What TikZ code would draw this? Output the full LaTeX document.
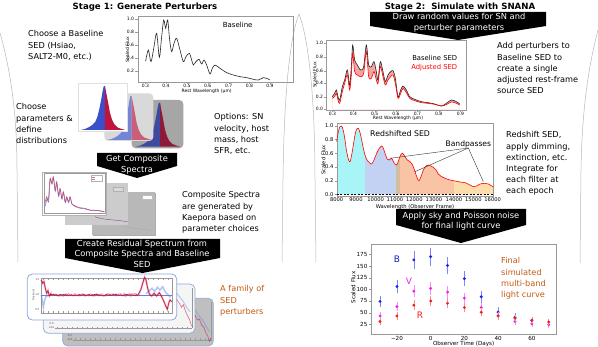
\documentclass[tikz,border=0pt]{standalone}
\usepackage{fontspec}
\setmainfont{DejaVu Sans}
\definecolor{orangeC}{HTML}{C55A11}
\definecolor{cyanB}{HTML}{A8F4F6}
\definecolor{blueB}{HTML}{C3D2F2}
\definecolor{tanB}{HTML}{D5BE9E}
\definecolor{salmonB}{HTML}{F9C3A6}
\definecolor{yelB}{HTML}{FDDDAA}
\definecolor{pinkF}{HTML}{F5A3A3}
\definecolor{cardblue}{HTML}{8EA9DB}
\definecolor{hB1}{HTML}{3A4FC8}
\definecolor{hR1}{HTML}{C0143C}
\definecolor{hB2}{HTML}{7386D6}
\definecolor{hR2}{HTML}{C8607A}
\definecolor{hB3}{HTML}{3D4A9E}
\definecolor{hR3}{HTML}{8E1A3A}
\definecolor{lcB}{HTML}{2020F0}
\definecolor{lcV}{HTML}{F020F0}
\definecolor{lcR}{HTML}{F02020}
\definecolor{resB}{HTML}{6080E0}
\definecolor{resR}{HTML}{C8143C}
\newcommand{\histo}[4]{%
\begin{scope}[shift={(#1,#2)},scale=1/3]
\fill[#3] (62,165) -- (75,162) -- (88,156) -- (98,149) -- (106,140) -- (112,126) -- (118,102) -- (124,72) -- (128,48) -- (131,34) -- (135,33) -- (135,165) -- cycle;
\fill[#4] (135,33) -- (137,44) -- (140,60) -- (145,86) -- (150,114) -- (156,134) -- (163,148) -- (172,157) -- (185,162) -- (196,165) -- (135,165) -- cycle;
\end{scope}}
\newcommand{\blkarrow}[5]{\fill[black] (#1,#3) -- (#2,#3) -- (#2,#4) -- ({(#1+#2)/2},#5) -- (#1,#4) -- cycle;}
\begin{document}
\begin{tikzpicture}[x=1pt,y=-1pt,
  txt/.style={font=\fontsize{8.2}{11.2}\selectfont,align=left,anchor=north west,inner sep=0pt},
  otxt/.style={txt,text=orangeC},
  atxt/.style={font=\fontsize{8.3}{10.5}\selectfont,text=white,align=center,inner sep=0pt},
  ttl/.style={font=\bfseries\fontsize{8.6}{11}\selectfont,inner sep=0pt},
  tk/.style={font=\fontsize{4.5}{5}\selectfont,inner sep=0.4pt},
  tkb/.style={font=\fontsize{5.2}{6}\selectfont,inner sep=0.4pt},
  tkc/.style={font=\fontsize{5.6}{7}\selectfont,inner sep=0.4pt},
  tkd/.style={font=\fontsize{2.6}{3}\selectfont,inner sep=0.2pt,text=black!70},
  frm/.style={draw=black!40,line width=0.3pt},
  brk/.style={draw=black!28,line width=0.5pt}]
\useasboundingbox (0,0) rectangle (598,347);
\fill[white] (0,0) rectangle (598,347);

% ---------- panel brackets
\draw[brk] (0,33) .. controls (12,75) and (17,120) .. (17,170) -- (18,262);
\draw[brk] (282,262) -- (283,180) .. controls (284,100) and (289,40) .. (299,14) .. controls (309,40) and (315,100) .. (315,180) -- (316,262);
\draw[brk] (598,30) .. controls (587,72) and (582,115) .. (581,170) -- (580,263);

% ---------- titles
\node[ttl] (t1) at (145,7) {Stage 1: Generate Perturbers};
\node[ttl] (t2) at (460,7) {Stage 2:\ \ Simulate with SNANA};

% ---------- Stage 1 baseline plot
\begin{scope}[scale=1/3]
\draw[frm] (413,47) rectangle (880,245);
\foreach \lab/\pos [count=\k] in {1.0/58,0.8/97,0.6/135,0.4/175,0.2/212}{\draw[frm] (413,\pos) -- (406,\pos); \node[tk,anchor=east] (bly\k) at (404,\pos) {\lab};}
\foreach \lab/\pos [count=\k] in {0.3/436,0.4/498,0.5/561,0.6/623,0.7/686,0.8/748,0.9/810}{\draw[frm] (\pos,245) -- (\pos,251); \node[tk,anchor=north] (blx\k) at (\pos,251) {\lab};}
\node[tk] (blxt) at (620,274) {Rest Wavelength (μm)};
\node[tk,rotate=90] (blyt) at (382,150) {Scaled Flux};
\node[font=\fontsize{7}{8}\selectfont,inner sep=0pt] (bllab) at (713,75) {Baseline};
\draw[line width=0.6pt,black!85] plot[smooth,tension=0.5] coordinates {(437,183) (445,150) (453,185) (462,140) (470,100) (478,172) (484,120) (491,60) (497,85) (503,60) (509,120) (515,155) (522,130) (530,115) (540,150) (550,185) (558,170) (568,160) (575,180) (580,195) (588,185) (597,178) (605,192) (612,180) (620,195) (630,222) (637,205) (645,195) (660,205) (680,218) (700,225) (720,230) (740,233) (760,238) (775,240) (790,233) (800,235) (810,240)};
\end{scope}

% ---------- histogram cards
\fill[black!35,rounded corners=4pt] (131.7,100) rectangle (183.3,148.3);
\histo{115}{91.67}{hB3}{hR3}
\fill[black!15,rounded corners=4pt] (104.3,93.3) rectangle (153.3,141);
\histo{86.67}{85}{hB2}{hR2}
\filldraw[fill=white,draw=black!12,line width=0.3pt] (78.3,83.3) rectangle (126.7,131);
\histo{60}{75}{hB1}{hR1}

% ---------- arrow 1
\blkarrow{97}{177}{153}{166}{178}
\node[atxt] (a1) at (137,164.5) {Get Composite\\Spectra};

% ---------- composite spectra cards
\begin{scope}[shift={(0,170)},scale=1/3]
\fill[black!32] (279,69) rectangle (469,199);
\fill[black!28] (275,65) rectangle (465,195);
\filldraw[fill=white,draw=black!25,line width=0.2pt] (425,75) rectangle (455,88);
\draw[hB2!60!black!50,line width=0.4pt] plot[smooth] coordinates {(370,170) (390,172) (410,176) (430,178) (460,182)};
\fill[black!20] (195,40) rectangle (385,165);
\filldraw[fill=white!85!black,draw=black!30,line width=0.2pt] (340,50) rectangle (370,63);
\draw[hR2!70!blue,line width=0.4pt] plot[smooth] coordinates {(285,140) (300,145) (320,148) (340,150) (360,152) (383,155)};
\filldraw[fill=white,draw=black!30,line width=0.3pt] (125,5) rectangle (318,135);
\draw[frm] (132,10) rectangle (314,130);
\filldraw[fill=white,draw=black!30,line width=0.2pt] (272,15) rectangle (305,32);
\draw[hR1!60,line width=0.3pt] (276,21) -- (284,21);
\draw[hB1!60,line width=0.3pt] (276,27) -- (284,27);
\draw[hB1!80,line width=0.5pt] plot[smooth] coordinates {(136,108) (141,86) (146,95) (151,28) (156,43) (161,25) (166,64) (171,40) (176,80) (181,58) (186,88) (191,68) (196,98) (201,83) (206,98) (211,83) (216,103) (221,107) (231,112) (241,115) (256,117) (271,121) (291,122) (306,124) (313,126)};
\draw[hR1!80,line width=0.5pt] plot[smooth] coordinates {(135,100) (140,80) (145,90) (150,25) (155,40) (160,20) (165,60) (170,35) (175,75) (180,55) (185,85) (190,65) (195,95) (200,80) (205,95) (210,80) (215,100) (220,105) (230,110) (240,113) (255,115) (270,120) (290,121) (305,123) (313,125)};
\end{scope}

% ---------- arrow 2
\blkarrow{65}{220}{239}{258}{273}
\node[atxt] (a2) at (142,253.5) {Create Residual Spectrum from\\Composite Spectra and Baseline\\SED};

% ---------- residual cards
\filldraw[fill=black!25,draw=cardblue,line width=0.7pt,rounded corners=5pt] (62.7,298.3) rectangle (213.3,346);
\filldraw[fill=black!4,draw=cardblue,line width=0.7pt,rounded corners=5pt] (43.3,284) rectangle (195,333.3);
\filldraw[fill=white,draw=cardblue,line width=0.8pt,rounded corners=5pt] (27.3,274) rectangle (176.7,320);
\begin{scope}[shift={(20,270)},scale=1/3]
% card 3 details
\draw[frm] (160,210) -- (575,210);
\foreach \xx in {165,180,...,570}{\draw[frm] (\xx,210) -- (\xx,205);}
\draw[frm] (572,95) -- (572,210);
\node[tkd] (r3a) at (150,196) {0.5};
\node[tkd] (r3b) at (150,210) {2e3};
\draw[resB,opacity=0.35,line width=1.2pt] plot[smooth] coordinates {(527,120) (537,138) (547,150) (558,168) (568,185)};
\draw[resR,opacity=0.6,line width=0.6pt] (525,135) -- (532,150) -- (538,147) -- (545,165) -- (552,172) -- (558,190) -- (564,200) -- (568,214) -- (572,205);
% card 2 details
\draw[frm] (105,175) -- (515,175);
\foreach \xx in {110,125,...,510}{\draw[frm] (\xx,175) -- (\xx,170);}
\draw[frm] (515,55) -- (515,175);
\node[tkd] (r2a) at (95,160) {0.0};
\node[tkd] (r2b) at (95,174) {2e3};
\draw[resB,opacity=0.35,line width=1.2pt] plot[smooth] coordinates {(470,70) (480,82) (490,95) (500,112) (510,125)};
\draw[resR,opacity=0.6,line width=0.6pt] (470,88) -- (478,100) -- (485,112) -- (490,104) -- (497,125) -- (504,140) -- (509,150) -- (514,166) -- (518,170);
% card 1 plot
\draw[frm] (62,25) rectangle (455,130);
\foreach \xx in {70,85,...,450}{\draw[frm] (\xx,130) -- (\xx,124); \draw[frm] (\xx,25) -- (\xx,30);}
\foreach \yy in {40,60,...,120}{\draw[frm] (62,\yy) -- (66,\yy);}
\node[tkd] (r1a) at (52,30) {1.5};
\node[tkd] (r1b) at (52,75) {1.0};
\node[tkd] (r1c) at (52,118) {0.5};
\node[tkd,rotate=90] (r1d) at (40,75) {Residual};
\draw[resB,line width=0.5pt] (62,75) -- (455,75);
\draw[resB,opacity=0.5,line width=1.4pt] (64,75) -- (67,92) -- (70,112) -- (74,90) -- (78,80) -- (84,76);
\draw[resB,opacity=0.45,line width=1.6pt] (378,72) -- (388,62) -- (396,55) -- (404,64) -- (412,52) -- (420,60) -- (428,50) -- (436,66) -- (444,74) -- (452,82);
\pgfmathsetseed{11}
\draw[resR,opacity=0.35,line width=1.8pt] (64,30) -- (68,40) -- (72,35) -- (76,55) -- (80,70) -- (84,62) -- (88,78) -- (92,72) -- plot[domain=92:355,samples=70] (\x,{75+3*rand}) -- (362,60) -- (368,40) -- (374,22) -- (378,30) -- (383,55) -- (388,72) -- (395,78) -- (402,70) -- (410,78) -- (418,68) -- (425,80) -- (432,95) -- (438,110) -- (442,118) -- (446,100) -- (450,90) -- (455,95);
\pgfmathsetseed{5}
\draw[resR,line width=0.6pt] (64,30) -- (68,40) -- (72,35) -- (76,55) -- (80,70) -- (84,62) -- (88,78) -- (92,72) -- plot[domain=92:355,samples=90] (\x,{75+2.5*rand}) -- (362,60) -- (368,40) -- (374,22) -- (378,30) -- (383,55) -- (388,72) -- (395,78) -- (402,70) -- (410,78) -- (418,68) -- (425,80) -- (432,95) -- (438,110) -- (442,118) -- (446,100) -- (450,90) -- (455,95);
\end{scope}

% ---------- arrow 3
\blkarrow{370}{546}{12}{26}{40}
\node[atxt] (a3) at (459,22.5) {Draw random values for SN and\\perturber parameters};

% ---------- Stage 2 SED plot
\begin{scope}[shift={(298,0)},scale=1/3]
\fill[pinkF] plot[smooth,tension=0.5] coordinates {(103,290) (110,280) (115,270) (120,290) (125,300) (133,260) (140,240) (148,210) (155,255) (160,200) (164,135) (170,180) (178,195) (188,210) (197,200) (205,135) (212,195) (220,200) (228,185) (235,215) (240,240) (247,185) (255,215) (262,245) (270,225) (278,215) (285,212) (292,235) (300,290) (308,270) (315,258) (325,270) (335,290) (350,298) (370,305) (390,308) (410,312) (430,318) (445,310) (460,300) (475,305) (485,312)} -- (485,329) -- (103,329) -- cycle;
\fill[white] plot[smooth,tension=0.5] coordinates {(103,295) (110,290) (115,280) (120,300) (125,310) (133,275) (140,250) (148,225) (155,270) (160,225) (164,160) (170,215) (178,225) (188,230) (197,220) (205,155) (212,230) (220,235) (228,215) (235,240) (240,250) (247,200) (255,230) (262,255) (270,240) (278,230) (285,225) (292,250) (300,295) (308,280) (315,265) (325,278) (335,295) (350,302) (370,308) (390,310) (410,313) (430,318) (445,314) (460,306) (475,310) (485,315)} -- (485,329) -- (103,329) -- cycle;
\draw[frm] (85,120) rectangle (505,330);
\foreach \lab/\pos [count=\k] in {1.0/130,0.8/172,0.6/213,0.4/250,0.2/290,0.0/328}{\draw[frm] (85,\pos) -- (79,\pos); \node[tk,anchor=east] (say\k) at (77,\pos) {\lab};}
\foreach \lab/\pos [count=\k] in {0.3/103,0.4/166,0.5/230,0.6/294,0.7/358,0.8/422,0.9/487}{\draw[frm] (\pos,330) -- (\pos,335); \node[tk,anchor=north] (sax\k) at (\pos,335) {\lab};}
\node[tk] (saxt) at (300,356) {Rest Wavelength (μm)};
\node[tk,rotate=90] (sayt) at (50,225) {Scaled Flux};
\draw[line width=0.6pt,black!85] plot[smooth,tension=0.5] coordinates {(103,290) (110,280) (115,270) (120,290) (125,300) (133,260) (140,240) (148,210) (155,255) (160,200) (164,135) (170,180) (178,195) (188,210) (197,200) (205,135) (212,195) (220,200) (228,185) (235,215) (240,240) (247,185) (255,215) (262,245) (270,225) (278,215) (285,212) (292,235) (300,290) (308,270) (315,258) (325,270) (335,290) (350,298) (370,305) (390,308) (410,312) (430,318) (445,310) (460,300) (475,305) (485,312)};
\draw[line width=0.6pt,red] plot[smooth,tension=0.5] coordinates {(103,295) (110,290) (115,280) (120,300) (125,310) (133,275) (140,250) (148,225) (155,270) (160,225) (164,160) (170,215) (178,225) (188,230) (197,220) (205,155) (212,230) (220,235) (228,215) (235,240) (240,250) (247,200) (255,230) (262,255) (270,240) (278,230) (285,225) (292,250) (300,295) (308,280) (315,265) (325,278) (335,295) (350,302) (370,308) (390,310) (410,313) (430,318) (445,314) (460,306) (475,310) (485,315)};
\node[font=\fontsize{6.8}{8}\selectfont,inner sep=0pt,anchor=east] (lbase) at (478,175) {Baseline SED};
\node[font=\fontsize{6.8}{8}\selectfont,inner sep=0pt,anchor=east,text=red] (ladj) at (478,202) {Adjusted SED};
\end{scope}

% ---------- Redshifted SED plot
\begin{scope}[shift={(300,110)},scale=1/3]
\begin{scope}
\clip plot[smooth,tension=0.5] coordinates {(110,95) (115,65) (120,50) (125,48) (130,62) (135,90) (140,125) (146,150) (150,155) (155,135) (160,105) (165,75) (170,57) (175,55) (180,68) (185,90) (190,115) (195,135) (200,148) (208,158) (215,162) (222,150) (230,130) (238,115) (245,108) (250,115) (255,130) (262,148) (268,150) (275,145) (282,158) (290,165) (296,150) (302,135) (308,130) (315,140) (322,150) (330,155) (338,165) (345,185) (352,205) (357,212) (363,200) (370,180) (378,168) (385,165) (392,168) (400,172) (408,180) (415,192) (425,200) (435,205) (450,210) (465,213) (480,216) (495,218) (510,225) (520,230) (530,228) (540,222) (555,220) (565,222) (575,228) (580,230)} -- (580,253) -- (110,253) -- cycle;
\fill[cyanB] (110,0) rectangle (195,260);
\fill[blueB] (195,0) rectangle (288,260);
\fill[tanB] (288,0) rectangle (300,260);
\fill[salmonB] (300,0) rectangle (462,260);
\fill[yelB] (462,0) rectangle (580,260);
\end{scope}
\draw[frm] (110,38) rectangle (580,257);
\draw[black,dashed,line width=0.4pt,dash pattern=on 2pt off 1.5pt] (110,253) -- (580,253);
\foreach \lab/\pos [count=\k] in {1.0/47,0.8/88,0.6/130,0.4/170,0.2/212,0.0/253}{\draw[frm] (110,\pos) -- (104,\pos); \node[tkb,anchor=east] (rsy\k) at (102,\pos) {\lab};}
\foreach \lab/\pos [count=\k] in {8000/110,9000/168,10000/227,11000/285,12000/343,13000/402,14000/462,15000/520,16000/578}{\draw[frm] (\pos,257) -- (\pos,262); \node[tkb,anchor=north] (rsx\k) at (\pos,262) {\lab};}
\node[tkb] (rsxt) at (345,292) {Wavelength (Observer Frame)};
\node[tkb,rotate=90] (rsyt) at (70,150) {Scaled Flux};
\draw[red,line width=0.6pt] plot[smooth,tension=0.5] coordinates {(110,95) (115,65) (120,50) (125,48) (130,62) (135,90) (140,125) (146,150) (150,155) (155,135) (160,105) (165,75) (170,57) (175,55) (180,68) (185,90) (190,115) (195,135) (200,148) (208,158) (215,162) (222,150) (230,130) (238,115) (245,108) (250,115) (255,130) (262,148) (268,150) (275,145) (282,158) (290,165) (296,150) (302,135) (308,130) (315,140) (322,150) (330,155) (338,165) (345,185) (352,205) (357,212) (363,200) (370,180) (378,168) (385,165) (392,168) (400,172) (408,180) (415,192) (425,200) (435,205) (450,210) (465,213) (480,216) (495,218) (510,225) (520,230) (530,228) (540,222) (555,220) (565,222) (575,228) (580,230)};
\node[font=\fontsize{7.8}{9}\selectfont,inner sep=0pt,anchor=west] (rslab) at (210,70) {Redshifted SED};
\node[font=\fontsize{7.6}{9}\selectfont,inner sep=0pt] (bp) at (505,102) {Bandpasses};
\coordinate (bp1) at (270,145);
\coordinate (bp2) at (345,185);
\coordinate (bp3) at (550,215);
\draw[black!80,line width=0.4pt] ([yshift=-0.5pt]bp.south) -- (bp1);
\draw[black!80,line width=0.4pt] ([yshift=-0.5pt]bp.south) -- (bp2);
\draw[black!80,line width=0.4pt] ([yshift=-0.5pt]bp.south) -- (bp3);
\end{scope}

% ---------- arrow 4
\blkarrow{396}{526}{209}{225}{243}
\node[atxt] (a4) at (461,221) {Apply sky and Poisson noise\\for final light curve};

% ---------- light curve plot
\begin{scope}[shift={(298,170)},scale=1/3]
\draw[frm] (220,222) rectangle (775,492);
\begin{scope}[shift={(398,498)},xscale=5.06,yscale=-1.4]
\foreach \lab [count=\k] in {175,150,125,100,75,50,25}{\draw[frm] (-35.2,\lab) -- (-36.8,\lab); \node[tkc,anchor=east] (lcy\k) at (-37.2,\lab) {\lab};}
\foreach \lab/\pos [count=\k] in {−20/-20,0/0,20/20,40/40,60/60}{\draw[frm] (\pos,4.3) -- (\pos,1.5); \node[tkc,anchor=north] (lcx\k) at (\pos,1.3) {\lab};}
\foreach \t/\v [count=\k] in {-30/74,-20/106,-10/163,0/170,10/151,20/123,30/84,40/51,50/40,60/33}{
  \pgfmathsetmacro\ee{6+0.08*\v}
  \draw[lcB!55,line width=0.6pt] (\t,\v-\ee) -- (\t,\v+\ee);
  \node[circle,fill=lcB,inner sep=0pt,minimum size=3.2pt] (pb\k) at (\t,\v) {};}
\foreach \t/\v [count=\k] in {-30/43,-20/63,-10/96,0/102,10/94,20/81,30/61,40/43,50/31,60/26,70/24}{
  \pgfmathsetmacro\ee{5+0.08*\v}
  \draw[lcV!50,line width=0.6pt] (\t,\v-\ee) -- (\t,\v+\ee);
  \node[circle,fill=lcV,inner sep=0pt,minimum size=3.2pt] (pv\k) at (\t,\v) {};}
\foreach \t/\v [count=\k] in {-30/31,-20/43,-10/66,0/75,10/70,20/61,30/51,40/43,50/38,60/34,70/30}{
  \pgfmathsetmacro\ee{5+0.08*\v}
  \draw[lcR!50,line width=0.6pt] (\t,\v-\ee) -- (\t,\v+\ee);
  \node[circle,fill=lcR,inner sep=0pt,minimum size=3.2pt] (pr\k) at (\t,\v) {};}
\end{scope}
\node[tkc] (lcxt) at (497,522) {Observer Time (Days)};
\node[tkc,rotate=90] (lcyt) at (166,352) {Scaled Flux};
\node[font=\fontsize{9}{10}\selectfont,text=lcB!85!black,inner sep=0pt] (lB) at (297,268) {B};
\node[font=\fontsize{9}{10}\selectfont,text=lcV,inner sep=0pt] (lV) at (333,333) {V};
\node[font=\fontsize{9}{10}\selectfont,text=lcR,inner sep=0pt] (lR) at (366,437) {R};
\end{scope}

% ---------- text blocks
\node[txt] (c1) at (28,30.5) {Choose a Baseline\\SED (Hsiao,\\SALT2-M0, etc.)};
\node[txt] (c2) at (16,103.5) {Choose\\parameters \&\\define\\distributions};
\node[txt] (c3) at (214,113.5) {Options: SN\\velocity, host\\mass, host\\SFR, etc.};
\node[txt] (c4) at (182,191.5) {Composite Spectra\\are generated by\\Kaepora based on\\parameter choices};
\node[otxt] (c5) at (220,285.5) {A family of\\SED\\perturbers};
\node[txt] (c6) at (497,42.5) {Add perturbers to\\Baseline SED to\\create a single\\adjusted rest-frame\\source SED};
\node[txt] (c7) at (506,131.5) {Redshift SED,\\apply dimming,\\extinction, etc.\\Integrate for\\each filter at\\each epoch};
\node[otxt] (c8) at (501,257.5) {Final\\simulated\\multi-band\\light curve};
\end{tikzpicture}
\end{document}
